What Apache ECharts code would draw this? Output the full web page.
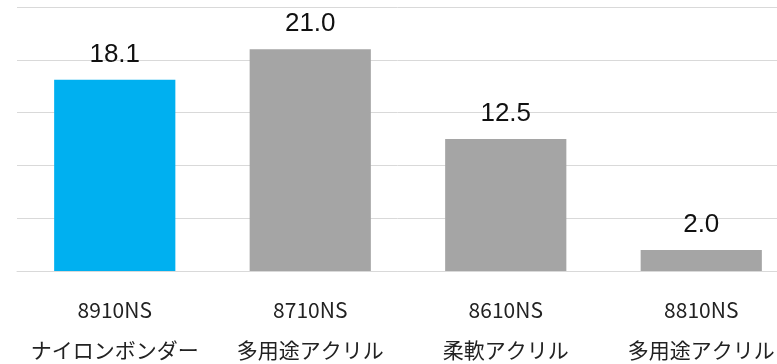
<!DOCTYPE html>
<html>
<head>
<meta charset="utf-8">
<script src="https://cdn.jsdelivr.net/npm/echarts@6/dist/echarts.min.js"></script>
<style>
  html, body { margin: 0; padding: 0; background: #ffffff; }
  #chart { width: 777px; height: 364px; }
</style>
</head>
<body>
<div id="chart"></div>
<script>
// Product codes and names shown under each bar
const productCodes = ['8910NS', '8710NS', '8610NS', '8810NS'];
const productNames = ['ナイロンボンダー', '多用途アクリル', '柔軟アクリル', '多用途アクリル'];
// Measured values per product
const values = [18.1, 21.0, 12.5, 2.0];
// Bar colours: the highlighted product first, the rest in grey
const barColors = ['#00b0f0', '#a5a5a5', '#a5a5a5', '#a5a5a5'];

const categories = productCodes.map((c, i) => c + '\n' + productNames[i]);

const chart = echarts.init(document.getElementById('chart'), null, { renderer: 'canvas' });
chart.setOption({
  animation: false,
  backgroundColor: '#ffffff',
  // the plot runs past the right edge so the last category is clipped
  grid: { left: 17, right: -22, top: 7, bottom: 93, containLabel: false, outerBoundsMode: 'none' },
  xAxis: {
    type: 'category',
    data: categories,
    axisLine: { show: true, lineStyle: { color: '#d9d9d9', width: 1 } },
    axisTick: { show: false },
    axisLabel: {
      color: '#222222',
      fontFamily: '"Noto Sans CJK JP", sans-serif',
      fontSize: 21,
      lineHeight: 40,
      margin: 19,
      interval: 0
    }
  },
  yAxis: {
    type: 'value',
    min: 0,
    max: 25,
    interval: 5,
    axisLabel: { show: false },
    axisLine: { show: false },
    axisTick: { show: false },
    splitLine: { lineStyle: { color: '#d9d9d9', width: 1 } }
  },
  series: [{
    type: 'bar',
    barWidth: '62%',
    data: values.map((v, i) => ({ value: v, itemStyle: { color: barColors[i] } })),
    label: {
      show: true,
      position: 'top',
      distance: 12,
      color: '#111111',
      fontFamily: '"Liberation Sans", Arial, sans-serif',
      fontSize: 26,
      formatter: p => p.value.toFixed(1)
    }
  }]
});
</script>
</body>
</html>
